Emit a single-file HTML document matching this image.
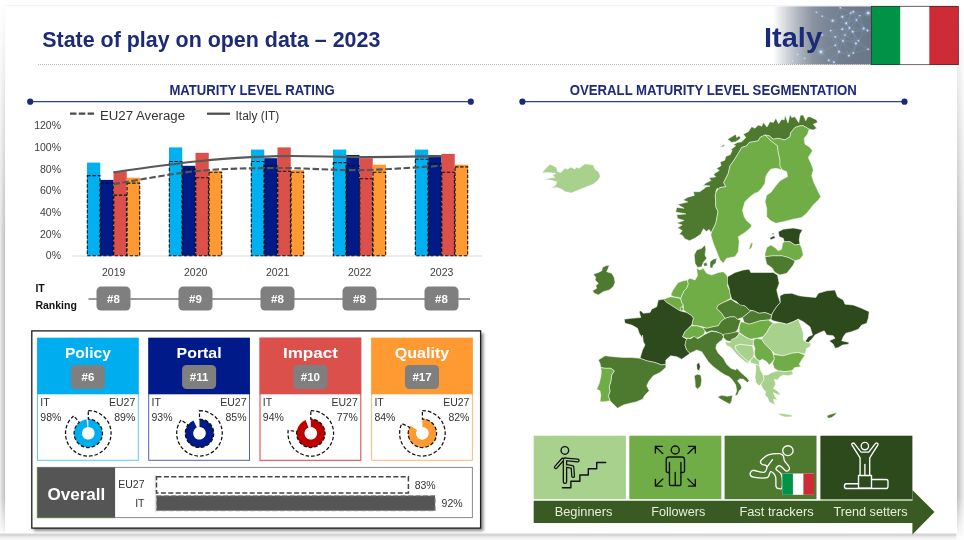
<!DOCTYPE html>
<html lang="en"><head><meta charset="utf-8"><title>State of play on open data – 2023 – Italy</title>
<style>
html,body{margin:0;padding:0;background:#fff;}
body{width:964px;height:540px;overflow:hidden;position:relative;font-family:"Liberation Sans",sans-serif;}
svg{position:absolute;left:0;top:0;display:block}
text{font-family:"Liberation Sans",sans-serif}
.b{font-weight:bold}
.ax{font-size:10.5px;fill:#404040}
.lg{font-size:12.5px;fill:#333}
.pc{font-size:10.5px;fill:#333}
.lab{font-size:12.5px;fill:#e7efdc}
</style></head><body>
<svg width="964" height="540" viewBox="0 0 964 540">
<defs>
<linearGradient id="hg" x1="0" x2="1" y1="0" y2="0"><stop offset="0.03" stop-color="#8a93a0" stop-opacity="0"/><stop offset="0.16" stop-color="#8a93a0" stop-opacity="0.38"/><stop offset="0.29" stop-color="#8a93a0" stop-opacity="0.7"/><stop offset="0.42" stop-color="#87909e" stop-opacity="0.97"/><stop offset="0.56" stop-color="#7a8595" stop-opacity="1"/><stop offset="0.75" stop-color="#707c8d" stop-opacity="1"/><stop offset="1" stop-color="#6a778a" stop-opacity="1"/></linearGradient>
<linearGradient id="ls" x1="0" x2="1" y1="0" y2="0"><stop offset="0" stop-color="#ececec"/><stop offset="0.8" stop-color="#c2c2c2"/><stop offset="1" stop-color="#fff"/></linearGradient>
<linearGradient id="rs" x1="0" x2="1" y1="0" y2="0"><stop offset="0" stop-color="#fff"/><stop offset="0.12" stop-color="#c0c0c0"/><stop offset="1" stop-color="#f1f1f1"/></linearGradient>
<linearGradient id="lm" x1="0" x2="0" y1="0" y2="1"><stop offset="0" stop-color="#fff" stop-opacity="1"/><stop offset="0.45" stop-color="#fff" stop-opacity="0"/><stop offset="0.92" stop-color="#fff" stop-opacity="0"/><stop offset="1" stop-color="#fff" stop-opacity="1"/></linearGradient>
<linearGradient id="bs" x1="0" x2="0" y1="0" y2="1"><stop offset="0" stop-color="#fff"/><stop offset="0.3" stop-color="#cfcfcf"/><stop offset="0.6" stop-color="#ededed"/><stop offset="1" stop-color="#f8f8f8"/></linearGradient>
<filter id="sh" x="-5%" y="-5%" width="112%" height="115%"><feGaussianBlur stdDeviation="1.6"/></filter>
</defs>

<rect x="0" y="0" width="5.6" height="540" fill="url(#ls)"/><rect x="0" y="0" width="5.6" height="540" fill="url(#lm)"/>
<rect x="0" y="532.5" width="964" height="7.5" fill="url(#bs)"/>
<rect x="6" y="5" width="952" height="1" fill="#f3f3f3"/>
<rect x="956.6" y="0" width="7.4" height="540" fill="url(#rs)"/><rect x="956.6" y="0" width="7.4" height="540" fill="url(#lm)"/>
<text x="42.3" y="46.5" class="b" font-size="22" fill="#1d2a78" textLength="338" lengthAdjust="spacingAndGlyphs">State of play on open data – 2023</text>
<line x1="38" y1="64.5" x2="871" y2="64.5" stroke="#b5b5b5" stroke-width="1" stroke-dasharray="1 1"/>
<rect x="770" y="6.4" width="101.5" height="58" fill="url(#hg)"/>
<line x1="868.2" y1="13.0" x2="856.5" y2="20.1" stroke="#a9c8ee" stroke-opacity="0.28" stroke-width="0.5"/>
<line x1="868.2" y1="13.0" x2="853.3" y2="11.7" stroke="#a9c8ee" stroke-opacity="0.28" stroke-width="0.5"/>
<line x1="868.2" y1="13.0" x2="859.8" y2="15.6" stroke="#a9c8ee" stroke-opacity="0.28" stroke-width="0.5"/>
<line x1="832.6" y1="20.7" x2="842.3" y2="16.8" stroke="#a9c8ee" stroke-opacity="0.28" stroke-width="0.5"/>
<line x1="832.6" y1="20.7" x2="846.2" y2="23.3" stroke="#a9c8ee" stroke-opacity="0.28" stroke-width="0.5"/>
<line x1="832.6" y1="20.7" x2="842.3" y2="29.2" stroke="#a9c8ee" stroke-opacity="0.28" stroke-width="0.5"/>
<line x1="832.6" y1="20.7" x2="822.2" y2="16.2" stroke="#a9c8ee" stroke-opacity="0.28" stroke-width="0.5"/>
<line x1="832.6" y1="20.7" x2="840.3" y2="7.8" stroke="#a9c8ee" stroke-opacity="0.28" stroke-width="0.5"/>
<line x1="832.6" y1="20.7" x2="830.6" y2="30.5" stroke="#a9c8ee" stroke-opacity="0.28" stroke-width="0.5"/>
<line x1="842.3" y1="16.8" x2="846.2" y2="23.3" stroke="#a9c8ee" stroke-opacity="0.28" stroke-width="0.5"/>
<line x1="842.3" y1="16.8" x2="849.4" y2="27.9" stroke="#a9c8ee" stroke-opacity="0.28" stroke-width="0.5"/>
<line x1="842.3" y1="16.8" x2="842.3" y2="29.2" stroke="#a9c8ee" stroke-opacity="0.28" stroke-width="0.5"/>
<line x1="842.3" y1="16.8" x2="856.5" y2="20.1" stroke="#a9c8ee" stroke-opacity="0.28" stroke-width="0.5"/>
<line x1="842.3" y1="16.8" x2="853.3" y2="11.7" stroke="#a9c8ee" stroke-opacity="0.28" stroke-width="0.5"/>
<line x1="842.3" y1="16.8" x2="850.7" y2="13.0" stroke="#a9c8ee" stroke-opacity="0.28" stroke-width="0.5"/>
<line x1="842.3" y1="16.8" x2="840.3" y2="7.8" stroke="#a9c8ee" stroke-opacity="0.28" stroke-width="0.5"/>
<line x1="846.2" y1="23.3" x2="849.4" y2="27.9" stroke="#a9c8ee" stroke-opacity="0.28" stroke-width="0.5"/>
<line x1="846.2" y1="23.3" x2="842.3" y2="29.2" stroke="#a9c8ee" stroke-opacity="0.28" stroke-width="0.5"/>
<line x1="846.2" y1="23.3" x2="852.7" y2="31.7" stroke="#a9c8ee" stroke-opacity="0.28" stroke-width="0.5"/>
<line x1="846.2" y1="23.3" x2="856.5" y2="20.1" stroke="#a9c8ee" stroke-opacity="0.28" stroke-width="0.5"/>
<line x1="846.2" y1="23.3" x2="853.3" y2="11.7" stroke="#a9c8ee" stroke-opacity="0.28" stroke-width="0.5"/>
<line x1="846.2" y1="23.3" x2="850.7" y2="13.0" stroke="#a9c8ee" stroke-opacity="0.28" stroke-width="0.5"/>
<line x1="846.2" y1="23.3" x2="859.8" y2="15.6" stroke="#a9c8ee" stroke-opacity="0.28" stroke-width="0.5"/>
<line x1="846.2" y1="23.3" x2="844.9" y2="35.0" stroke="#a9c8ee" stroke-opacity="0.28" stroke-width="0.5"/>
<line x1="849.4" y1="27.9" x2="842.3" y2="29.2" stroke="#a9c8ee" stroke-opacity="0.28" stroke-width="0.5"/>
<line x1="849.4" y1="27.9" x2="852.7" y2="31.7" stroke="#a9c8ee" stroke-opacity="0.28" stroke-width="0.5"/>
<line x1="849.4" y1="27.9" x2="863.7" y2="28.5" stroke="#a9c8ee" stroke-opacity="0.28" stroke-width="0.5"/>
<line x1="849.4" y1="27.9" x2="856.5" y2="20.1" stroke="#a9c8ee" stroke-opacity="0.28" stroke-width="0.5"/>
<line x1="849.4" y1="27.9" x2="850.7" y2="13.0" stroke="#a9c8ee" stroke-opacity="0.28" stroke-width="0.5"/>
<line x1="849.4" y1="27.9" x2="842.9" y2="40.8" stroke="#a9c8ee" stroke-opacity="0.28" stroke-width="0.5"/>
<line x1="849.4" y1="27.9" x2="858.5" y2="40.8" stroke="#a9c8ee" stroke-opacity="0.28" stroke-width="0.5"/>
<line x1="849.4" y1="27.9" x2="859.8" y2="15.6" stroke="#a9c8ee" stroke-opacity="0.28" stroke-width="0.5"/>
<line x1="849.4" y1="27.9" x2="844.9" y2="35.0" stroke="#a9c8ee" stroke-opacity="0.28" stroke-width="0.5"/>
<line x1="842.3" y1="29.2" x2="852.7" y2="31.7" stroke="#a9c8ee" stroke-opacity="0.28" stroke-width="0.5"/>
<line x1="842.3" y1="29.2" x2="835.2" y2="36.9" stroke="#a9c8ee" stroke-opacity="0.28" stroke-width="0.5"/>
<line x1="842.3" y1="29.2" x2="842.9" y2="40.8" stroke="#a9c8ee" stroke-opacity="0.28" stroke-width="0.5"/>
<line x1="842.3" y1="29.2" x2="844.9" y2="35.0" stroke="#a9c8ee" stroke-opacity="0.28" stroke-width="0.5"/>
<line x1="842.3" y1="29.2" x2="830.6" y2="30.5" stroke="#a9c8ee" stroke-opacity="0.28" stroke-width="0.5"/>
<line x1="852.7" y1="31.7" x2="863.7" y2="28.5" stroke="#a9c8ee" stroke-opacity="0.28" stroke-width="0.5"/>
<line x1="852.7" y1="31.7" x2="867.6" y2="30.5" stroke="#a9c8ee" stroke-opacity="0.28" stroke-width="0.5"/>
<line x1="852.7" y1="31.7" x2="856.5" y2="20.1" stroke="#a9c8ee" stroke-opacity="0.28" stroke-width="0.5"/>
<line x1="852.7" y1="31.7" x2="842.9" y2="40.8" stroke="#a9c8ee" stroke-opacity="0.28" stroke-width="0.5"/>
<line x1="852.7" y1="31.7" x2="855.9" y2="43.4" stroke="#a9c8ee" stroke-opacity="0.28" stroke-width="0.5"/>
<line x1="852.7" y1="31.7" x2="858.5" y2="40.8" stroke="#a9c8ee" stroke-opacity="0.28" stroke-width="0.5"/>
<line x1="852.7" y1="31.7" x2="844.9" y2="35.0" stroke="#a9c8ee" stroke-opacity="0.28" stroke-width="0.5"/>
<line x1="863.7" y1="28.5" x2="867.6" y2="30.5" stroke="#a9c8ee" stroke-opacity="0.28" stroke-width="0.5"/>
<line x1="863.7" y1="28.5" x2="856.5" y2="20.1" stroke="#a9c8ee" stroke-opacity="0.28" stroke-width="0.5"/>
<line x1="863.7" y1="28.5" x2="858.5" y2="40.8" stroke="#a9c8ee" stroke-opacity="0.28" stroke-width="0.5"/>
<line x1="863.7" y1="28.5" x2="859.8" y2="15.6" stroke="#a9c8ee" stroke-opacity="0.28" stroke-width="0.5"/>
<line x1="867.6" y1="30.5" x2="856.5" y2="20.1" stroke="#a9c8ee" stroke-opacity="0.28" stroke-width="0.5"/>
<line x1="867.6" y1="30.5" x2="858.5" y2="40.8" stroke="#a9c8ee" stroke-opacity="0.28" stroke-width="0.5"/>
<line x1="856.5" y1="20.1" x2="853.3" y2="11.7" stroke="#a9c8ee" stroke-opacity="0.28" stroke-width="0.5"/>
<line x1="856.5" y1="20.1" x2="850.7" y2="13.0" stroke="#a9c8ee" stroke-opacity="0.28" stroke-width="0.5"/>
<line x1="856.5" y1="20.1" x2="859.8" y2="15.6" stroke="#a9c8ee" stroke-opacity="0.28" stroke-width="0.5"/>
<line x1="853.3" y1="11.7" x2="850.7" y2="13.0" stroke="#a9c8ee" stroke-opacity="0.28" stroke-width="0.5"/>
<line x1="853.3" y1="11.7" x2="840.3" y2="7.8" stroke="#a9c8ee" stroke-opacity="0.28" stroke-width="0.5"/>
<line x1="853.3" y1="11.7" x2="859.8" y2="15.6" stroke="#a9c8ee" stroke-opacity="0.28" stroke-width="0.5"/>
<line x1="850.7" y1="13.0" x2="840.3" y2="7.8" stroke="#a9c8ee" stroke-opacity="0.28" stroke-width="0.5"/>
<line x1="850.7" y1="13.0" x2="859.8" y2="15.6" stroke="#a9c8ee" stroke-opacity="0.28" stroke-width="0.5"/>
<line x1="835.2" y1="36.9" x2="842.9" y2="40.8" stroke="#a9c8ee" stroke-opacity="0.28" stroke-width="0.5"/>
<line x1="835.2" y1="36.9" x2="839.0" y2="51.8" stroke="#a9c8ee" stroke-opacity="0.28" stroke-width="0.5"/>
<line x1="835.2" y1="36.9" x2="835.2" y2="45.4" stroke="#a9c8ee" stroke-opacity="0.28" stroke-width="0.5"/>
<line x1="835.2" y1="36.9" x2="822.2" y2="35.0" stroke="#a9c8ee" stroke-opacity="0.28" stroke-width="0.5"/>
<line x1="835.2" y1="36.9" x2="844.9" y2="35.0" stroke="#a9c8ee" stroke-opacity="0.28" stroke-width="0.5"/>
<line x1="835.2" y1="36.9" x2="830.6" y2="30.5" stroke="#a9c8ee" stroke-opacity="0.28" stroke-width="0.5"/>
<line x1="842.9" y1="40.8" x2="855.9" y2="43.4" stroke="#a9c8ee" stroke-opacity="0.28" stroke-width="0.5"/>
<line x1="842.9" y1="40.8" x2="858.5" y2="40.8" stroke="#a9c8ee" stroke-opacity="0.28" stroke-width="0.5"/>
<line x1="842.9" y1="40.8" x2="839.0" y2="51.8" stroke="#a9c8ee" stroke-opacity="0.28" stroke-width="0.5"/>
<line x1="842.9" y1="40.8" x2="835.2" y2="45.4" stroke="#a9c8ee" stroke-opacity="0.28" stroke-width="0.5"/>
<line x1="842.9" y1="40.8" x2="848.8" y2="55.7" stroke="#a9c8ee" stroke-opacity="0.28" stroke-width="0.5"/>
<line x1="842.9" y1="40.8" x2="853.3" y2="53.1" stroke="#a9c8ee" stroke-opacity="0.28" stroke-width="0.5"/>
<line x1="842.9" y1="40.8" x2="844.9" y2="35.0" stroke="#a9c8ee" stroke-opacity="0.28" stroke-width="0.5"/>
<line x1="842.9" y1="40.8" x2="830.6" y2="30.5" stroke="#a9c8ee" stroke-opacity="0.28" stroke-width="0.5"/>
<line x1="855.9" y1="43.4" x2="858.5" y2="40.8" stroke="#a9c8ee" stroke-opacity="0.28" stroke-width="0.5"/>
<line x1="855.9" y1="43.4" x2="848.8" y2="55.7" stroke="#a9c8ee" stroke-opacity="0.28" stroke-width="0.5"/>
<line x1="855.9" y1="43.4" x2="853.3" y2="53.1" stroke="#a9c8ee" stroke-opacity="0.28" stroke-width="0.5"/>
<line x1="855.9" y1="43.4" x2="868.2" y2="49.2" stroke="#a9c8ee" stroke-opacity="0.28" stroke-width="0.5"/>
<line x1="855.9" y1="43.4" x2="844.9" y2="35.0" stroke="#a9c8ee" stroke-opacity="0.28" stroke-width="0.5"/>
<line x1="858.5" y1="40.8" x2="853.3" y2="53.1" stroke="#a9c8ee" stroke-opacity="0.28" stroke-width="0.5"/>
<line x1="858.5" y1="40.8" x2="868.2" y2="49.2" stroke="#a9c8ee" stroke-opacity="0.28" stroke-width="0.5"/>
<line x1="858.5" y1="40.8" x2="844.9" y2="35.0" stroke="#a9c8ee" stroke-opacity="0.28" stroke-width="0.5"/>
<line x1="820.9" y1="51.8" x2="835.2" y2="45.4" stroke="#a9c8ee" stroke-opacity="0.28" stroke-width="0.5"/>
<line x1="820.9" y1="51.8" x2="828.7" y2="60.3" stroke="#a9c8ee" stroke-opacity="0.28" stroke-width="0.5"/>
<line x1="820.9" y1="51.8" x2="811.8" y2="42.8" stroke="#a9c8ee" stroke-opacity="0.28" stroke-width="0.5"/>
<line x1="839.0" y1="51.8" x2="835.2" y2="45.4" stroke="#a9c8ee" stroke-opacity="0.28" stroke-width="0.5"/>
<line x1="839.0" y1="51.8" x2="848.8" y2="55.7" stroke="#a9c8ee" stroke-opacity="0.28" stroke-width="0.5"/>
<line x1="839.0" y1="51.8" x2="853.3" y2="53.1" stroke="#a9c8ee" stroke-opacity="0.28" stroke-width="0.5"/>
<line x1="839.0" y1="51.8" x2="828.7" y2="60.3" stroke="#a9c8ee" stroke-opacity="0.28" stroke-width="0.5"/>
<line x1="839.0" y1="51.8" x2="833.9" y2="62.2" stroke="#a9c8ee" stroke-opacity="0.28" stroke-width="0.5"/>
<line x1="835.2" y1="45.4" x2="844.9" y2="35.0" stroke="#a9c8ee" stroke-opacity="0.28" stroke-width="0.5"/>
<line x1="835.2" y1="45.4" x2="830.6" y2="30.5" stroke="#a9c8ee" stroke-opacity="0.28" stroke-width="0.5"/>
<line x1="848.8" y1="55.7" x2="853.3" y2="53.1" stroke="#a9c8ee" stroke-opacity="0.28" stroke-width="0.5"/>
<line x1="853.3" y1="53.1" x2="868.2" y2="49.2" stroke="#a9c8ee" stroke-opacity="0.28" stroke-width="0.5"/>
<line x1="828.7" y1="60.3" x2="833.9" y2="62.2" stroke="#a9c8ee" stroke-opacity="0.28" stroke-width="0.5"/>
<line x1="822.2" y1="35.0" x2="830.6" y2="30.5" stroke="#a9c8ee" stroke-opacity="0.28" stroke-width="0.5"/>
<line x1="822.2" y1="35.0" x2="811.8" y2="42.8" stroke="#a9c8ee" stroke-opacity="0.28" stroke-width="0.5"/>
<line x1="797.6" y1="54.4" x2="792.4" y2="60.9" stroke="#a9c8ee" stroke-opacity="0.28" stroke-width="0.5"/>
<line x1="797.6" y1="54.4" x2="804.7" y2="58.3" stroke="#a9c8ee" stroke-opacity="0.28" stroke-width="0.5"/>
<line x1="792.4" y1="60.9" x2="804.7" y2="58.3" stroke="#a9c8ee" stroke-opacity="0.28" stroke-width="0.5"/>
<line x1="816.4" y1="12.3" x2="822.2" y2="16.2" stroke="#a9c8ee" stroke-opacity="0.28" stroke-width="0.5"/>
<line x1="844.9" y1="35.0" x2="830.6" y2="30.5" stroke="#a9c8ee" stroke-opacity="0.28" stroke-width="0.5"/>
<circle cx="868.2" cy="13.0" r="3.4" fill="#9cc6f7" fill-opacity="0.22"/><circle cx="868.2" cy="13.0" r="1.5" fill="#d3e7ff" fill-opacity="0.9"/>
<circle cx="832.6" cy="20.7" r="2.5" fill="#9cc6f7" fill-opacity="0.22"/><circle cx="832.6" cy="20.7" r="1.1" fill="#d3e7ff" fill-opacity="0.9"/>
<circle cx="842.3" cy="16.8" r="2.3" fill="#9cc6f7" fill-opacity="0.22"/><circle cx="842.3" cy="16.8" r="1.0" fill="#d3e7ff" fill-opacity="0.9"/>
<circle cx="846.2" cy="23.3" r="2.3" fill="#9cc6f7" fill-opacity="0.22"/><circle cx="846.2" cy="23.3" r="1.0" fill="#d3e7ff" fill-opacity="0.9"/>
<circle cx="849.4" cy="27.9" r="2.1" fill="#9cc6f7" fill-opacity="0.22"/><circle cx="849.4" cy="27.9" r="0.9" fill="#d3e7ff" fill-opacity="0.9"/>
<circle cx="842.3" cy="29.2" r="2.1" fill="#9cc6f7" fill-opacity="0.22"/><circle cx="842.3" cy="29.2" r="0.9" fill="#d3e7ff" fill-opacity="0.9"/>
<circle cx="852.7" cy="31.7" r="2.1" fill="#9cc6f7" fill-opacity="0.22"/><circle cx="852.7" cy="31.7" r="0.9" fill="#d3e7ff" fill-opacity="0.9"/>
<circle cx="863.7" cy="28.5" r="2.3" fill="#9cc6f7" fill-opacity="0.22"/><circle cx="863.7" cy="28.5" r="1.0" fill="#d3e7ff" fill-opacity="0.9"/>
<circle cx="867.6" cy="30.5" r="2.1" fill="#9cc6f7" fill-opacity="0.22"/><circle cx="867.6" cy="30.5" r="0.9" fill="#d3e7ff" fill-opacity="0.9"/>
<circle cx="856.5" cy="20.1" r="1.8" fill="#9cc6f7" fill-opacity="0.22"/><circle cx="856.5" cy="20.1" r="0.8" fill="#d3e7ff" fill-opacity="0.9"/>
<circle cx="853.3" cy="11.7" r="2.1" fill="#9cc6f7" fill-opacity="0.22"/><circle cx="853.3" cy="11.7" r="0.9" fill="#d3e7ff" fill-opacity="0.9"/>
<circle cx="850.7" cy="13.0" r="1.8" fill="#9cc6f7" fill-opacity="0.22"/><circle cx="850.7" cy="13.0" r="0.8" fill="#d3e7ff" fill-opacity="0.9"/>
<circle cx="835.2" cy="36.9" r="1.8" fill="#9cc6f7" fill-opacity="0.22"/><circle cx="835.2" cy="36.9" r="0.8" fill="#d3e7ff" fill-opacity="0.9"/>
<circle cx="842.9" cy="40.8" r="2.1" fill="#9cc6f7" fill-opacity="0.22"/><circle cx="842.9" cy="40.8" r="0.9" fill="#d3e7ff" fill-opacity="0.9"/>
<circle cx="855.9" cy="43.4" r="2.1" fill="#9cc6f7" fill-opacity="0.22"/><circle cx="855.9" cy="43.4" r="0.9" fill="#d3e7ff" fill-opacity="0.9"/>
<circle cx="858.5" cy="40.8" r="1.8" fill="#9cc6f7" fill-opacity="0.22"/><circle cx="858.5" cy="40.8" r="0.8" fill="#d3e7ff" fill-opacity="0.9"/>
<circle cx="820.9" cy="51.8" r="3.7" fill="#9cc6f7" fill-opacity="0.22"/><circle cx="820.9" cy="51.8" r="1.6" fill="#d3e7ff" fill-opacity="0.9"/>
<circle cx="839.0" cy="51.8" r="2.3" fill="#9cc6f7" fill-opacity="0.22"/><circle cx="839.0" cy="51.8" r="1.0" fill="#d3e7ff" fill-opacity="0.9"/>
<circle cx="835.2" cy="45.4" r="1.8" fill="#9cc6f7" fill-opacity="0.22"/><circle cx="835.2" cy="45.4" r="0.8" fill="#d3e7ff" fill-opacity="0.9"/>
<circle cx="848.8" cy="55.7" r="2.1" fill="#9cc6f7" fill-opacity="0.22"/><circle cx="848.8" cy="55.7" r="0.9" fill="#d3e7ff" fill-opacity="0.9"/>
<circle cx="853.3" cy="53.1" r="1.8" fill="#9cc6f7" fill-opacity="0.22"/><circle cx="853.3" cy="53.1" r="0.8" fill="#d3e7ff" fill-opacity="0.9"/>
<circle cx="828.7" cy="60.3" r="2.1" fill="#9cc6f7" fill-opacity="0.22"/><circle cx="828.7" cy="60.3" r="0.9" fill="#d3e7ff" fill-opacity="0.9"/>
<circle cx="833.9" cy="62.2" r="2.1" fill="#9cc6f7" fill-opacity="0.22"/><circle cx="833.9" cy="62.2" r="0.9" fill="#d3e7ff" fill-opacity="0.9"/>
<circle cx="822.2" cy="35.0" r="1.8" fill="#9cc6f7" fill-opacity="0.22"/><circle cx="822.2" cy="35.0" r="0.8" fill="#d3e7ff" fill-opacity="0.9"/>
<circle cx="797.6" cy="54.4" r="1.8" fill="#9cc6f7" fill-opacity="0.22"/><circle cx="797.6" cy="54.4" r="0.8" fill="#d3e7ff" fill-opacity="0.9"/>
<circle cx="792.4" cy="60.9" r="1.8" fill="#9cc6f7" fill-opacity="0.22"/><circle cx="792.4" cy="60.9" r="0.8" fill="#d3e7ff" fill-opacity="0.9"/>
<circle cx="816.4" cy="12.3" r="1.6" fill="#9cc6f7" fill-opacity="0.22"/><circle cx="816.4" cy="12.3" r="0.7" fill="#d3e7ff" fill-opacity="0.9"/>
<circle cx="822.2" cy="16.2" r="1.6" fill="#9cc6f7" fill-opacity="0.22"/><circle cx="822.2" cy="16.2" r="0.7" fill="#d3e7ff" fill-opacity="0.9"/>
<circle cx="840.3" cy="7.8" r="1.8" fill="#9cc6f7" fill-opacity="0.22"/><circle cx="840.3" cy="7.8" r="0.8" fill="#d3e7ff" fill-opacity="0.9"/>
<circle cx="868.2" cy="49.2" r="1.8" fill="#9cc6f7" fill-opacity="0.22"/><circle cx="868.2" cy="49.2" r="0.8" fill="#d3e7ff" fill-opacity="0.9"/>
<circle cx="859.8" cy="15.6" r="1.6" fill="#9cc6f7" fill-opacity="0.22"/><circle cx="859.8" cy="15.6" r="0.7" fill="#d3e7ff" fill-opacity="0.9"/>
<circle cx="844.9" cy="35.0" r="1.6" fill="#9cc6f7" fill-opacity="0.22"/><circle cx="844.9" cy="35.0" r="0.7" fill="#d3e7ff" fill-opacity="0.9"/>
<circle cx="830.6" cy="30.5" r="1.6" fill="#9cc6f7" fill-opacity="0.22"/><circle cx="830.6" cy="30.5" r="0.7" fill="#d3e7ff" fill-opacity="0.9"/>
<circle cx="811.8" cy="42.8" r="1.6" fill="#9cc6f7" fill-opacity="0.22"/><circle cx="811.8" cy="42.8" r="0.7" fill="#d3e7ff" fill-opacity="0.9"/>
<circle cx="804.7" cy="58.3" r="1.6" fill="#9cc6f7" fill-opacity="0.22"/><circle cx="804.7" cy="58.3" r="0.7" fill="#d3e7ff" fill-opacity="0.9"/>
<text x="764" y="46.5" class="b" font-size="28" fill="#1d2a78" textLength="58" lengthAdjust="spacingAndGlyphs">Italy</text>
<rect x="871" y="6" width="87.5" height="59" fill="#fff"/><rect x="871" y="6" width="29.2" height="59" fill="#009246"/><rect x="929.3" y="6" width="29.2" height="59" fill="#ce2b37"/><rect x="871.3" y="6.3" width="87" height="58.4" fill="none" stroke="#3a2a2a" stroke-width="0.7"/>
<text x="169.4" y="94.5" class="b" font-size="13.8" fill="#1d2a78" textLength="165.2" lengthAdjust="spacingAndGlyphs">MATURITY LEVEL RATING</text>
<line x1="30" y1="101.7" x2="471" y2="101.7" stroke="#2f3f8f" stroke-width="1.3"/><circle cx="30.2" cy="101.7" r="3.1" fill="#1d2a78"/><circle cx="470.8" cy="101.7" r="3.1" fill="#1d2a78"/>
<text x="569.7" y="94.5" class="b" font-size="13.8" fill="#1d2a78" textLength="287.2" lengthAdjust="spacingAndGlyphs">OVERALL MATURITY LEVEL SEGMENTATION</text>
<line x1="522" y1="101.7" x2="904.5" y2="101.7" stroke="#2f3f8f" stroke-width="1.3"/><circle cx="522.4" cy="101.7" r="3.1" fill="#1d2a78"/><circle cx="904.5" cy="101.7" r="3.1" fill="#1d2a78"/>
<line x1="70" y1="113.7" x2="94" y2="113.7" stroke="#4a4a4a" stroke-width="2.2" stroke-dasharray="6.5 2.3"/>
<text x="100" y="119.5" class="lg" textLength="85" lengthAdjust="spacingAndGlyphs">EU27 Average</text>
<line x1="207" y1="113.7" x2="230" y2="113.7" stroke="#4a4a4a" stroke-width="2.2"/>
<text x="235.5" y="119.5" class="lg" textLength="43.8" lengthAdjust="spacingAndGlyphs">Italy (IT)</text>
<text x="61" y="259.4" class="ax" text-anchor="end">0%</text>
<text x="61" y="237.7" class="ax" text-anchor="end">20%</text>
<text x="61" y="216.1" class="ax" text-anchor="end">40%</text>
<text x="61" y="194.4" class="ax" text-anchor="end">60%</text>
<text x="61" y="172.8" class="ax" text-anchor="end">80%</text>
<text x="61" y="151.1" class="ax" text-anchor="end">100%</text>
<text x="61" y="129.4" class="ax" text-anchor="end">120%</text>
<line x1="72" y1="256.0" x2="482" y2="256.0" stroke="#d9d9d9" stroke-width="1"/>
<rect x="87.00" y="162.6" width="13.25" height="93.1" fill="#00b0f0"/>
<rect x="100.25" y="179.9" width="13.25" height="75.8" fill="#001a8a"/>
<rect x="113.50" y="171.2" width="13.25" height="84.5" fill="#dc504b"/>
<rect x="126.75" y="177.7" width="13.25" height="78.0" fill="#ff9a33"/>
<rect x="169.00" y="147.4" width="13.25" height="108.3" fill="#00b0f0"/>
<rect x="182.25" y="165.8" width="13.25" height="89.9" fill="#001a8a"/>
<rect x="195.50" y="152.8" width="13.25" height="102.9" fill="#dc504b"/>
<rect x="208.75" y="171.2" width="13.25" height="84.5" fill="#ff9a33"/>
<rect x="251.00" y="149.6" width="13.25" height="106.1" fill="#00b0f0"/>
<rect x="264.25" y="158.2" width="13.25" height="97.5" fill="#001a8a"/>
<rect x="277.50" y="147.4" width="13.25" height="108.3" fill="#dc504b"/>
<rect x="290.75" y="170.1" width="13.25" height="85.6" fill="#ff9a33"/>
<rect x="333.00" y="149.6" width="13.25" height="106.1" fill="#00b0f0"/>
<rect x="346.25" y="155.0" width="13.25" height="100.7" fill="#001a8a"/>
<rect x="359.50" y="158.2" width="13.25" height="97.5" fill="#dc504b"/>
<rect x="372.75" y="164.7" width="13.25" height="91.0" fill="#ff9a33"/>
<rect x="415.00" y="149.6" width="13.25" height="106.1" fill="#00b0f0"/>
<rect x="428.25" y="155.0" width="13.25" height="100.7" fill="#001a8a"/>
<rect x="441.50" y="153.9" width="13.25" height="101.8" fill="#dc504b"/>
<rect x="454.75" y="164.7" width="13.25" height="91.0" fill="#ff9a33"/>
<rect x="87.30" y="175.6" width="12.65" height="80.1" fill="none" stroke="#111" stroke-width="1.1" stroke-dasharray="3.4 1.7"/>
<rect x="100.55" y="183.1" width="12.65" height="72.6" fill="none" stroke="#111" stroke-width="1.1" stroke-dasharray="3.4 1.7"/>
<rect x="113.80" y="195.1" width="12.65" height="60.6" fill="none" stroke="#111" stroke-width="1.1" stroke-dasharray="3.4 1.7"/>
<rect x="127.05" y="183.1" width="12.65" height="72.6" fill="none" stroke="#111" stroke-width="1.1" stroke-dasharray="3.4 1.7"/>
<rect x="169.30" y="161.5" width="12.65" height="94.2" fill="none" stroke="#111" stroke-width="1.1" stroke-dasharray="3.4 1.7"/>
<rect x="182.55" y="169.1" width="12.65" height="86.6" fill="none" stroke="#111" stroke-width="1.1" stroke-dasharray="3.4 1.7"/>
<rect x="195.80" y="177.7" width="12.65" height="78.0" fill="none" stroke="#111" stroke-width="1.1" stroke-dasharray="3.4 1.7"/>
<rect x="209.05" y="172.3" width="12.65" height="83.4" fill="none" stroke="#111" stroke-width="1.1" stroke-dasharray="3.4 1.7"/>
<rect x="251.30" y="161.5" width="12.65" height="94.2" fill="none" stroke="#111" stroke-width="1.1" stroke-dasharray="3.4 1.7"/>
<rect x="264.55" y="165.8" width="12.65" height="89.9" fill="none" stroke="#111" stroke-width="1.1" stroke-dasharray="3.4 1.7"/>
<rect x="277.80" y="171.2" width="12.65" height="84.5" fill="none" stroke="#111" stroke-width="1.1" stroke-dasharray="3.4 1.7"/>
<rect x="291.05" y="172.3" width="12.65" height="83.4" fill="none" stroke="#111" stroke-width="1.1" stroke-dasharray="3.4 1.7"/>
<rect x="333.30" y="162.6" width="12.65" height="93.1" fill="none" stroke="#111" stroke-width="1.1" stroke-dasharray="3.4 1.7"/>
<rect x="346.55" y="165.8" width="12.65" height="89.9" fill="none" stroke="#111" stroke-width="1.1" stroke-dasharray="3.4 1.7"/>
<rect x="359.80" y="178.8" width="12.65" height="76.9" fill="none" stroke="#111" stroke-width="1.1" stroke-dasharray="3.4 1.7"/>
<rect x="373.05" y="172.3" width="12.65" height="83.4" fill="none" stroke="#111" stroke-width="1.1" stroke-dasharray="3.4 1.7"/>
<rect x="415.30" y="159.3" width="12.65" height="96.4" fill="none" stroke="#111" stroke-width="1.1" stroke-dasharray="3.4 1.7"/>
<rect x="428.55" y="163.6" width="12.65" height="92.1" fill="none" stroke="#111" stroke-width="1.1" stroke-dasharray="3.4 1.7"/>
<rect x="441.80" y="172.3" width="12.65" height="83.4" fill="none" stroke="#111" stroke-width="1.1" stroke-dasharray="3.4 1.7"/>
<rect x="455.05" y="166.9" width="12.65" height="88.8" fill="none" stroke="#111" stroke-width="1.1" stroke-dasharray="3.4 1.7"/>
<path d="M113.5,184.2 C127.2,182.1 168.2,173.9 195.5,171.2 C222.8,168.5 250.2,168.2 277.5,168.0 C304.8,167.8 332.2,170.5 359.5,170.1 C386.8,169.8 427.8,166.5 441.5,165.8" fill="none" stroke="#555" stroke-width="2.1" stroke-dasharray="6.5 2.6"/>
<path d="M113.5,172.3 C127.2,170.5 168.2,164.2 195.5,161.5 C222.8,158.8 250.2,156.8 277.5,156.1 C304.8,155.3 332.2,157.1 359.5,157.1 C386.8,157.1 427.8,156.2 441.5,156.1" fill="none" stroke="#595959" stroke-width="2.1"/>
<text x="113.7" y="276.2" class="ax" text-anchor="middle" font-size="10.8">2019</text>
<text x="195.7" y="276.2" class="ax" text-anchor="middle" font-size="10.8">2020</text>
<text x="277.7" y="276.2" class="ax" text-anchor="middle" font-size="10.8">2021</text>
<text x="359.7" y="276.2" class="ax" text-anchor="middle" font-size="10.8">2022</text>
<text x="441.7" y="276.2" class="ax" text-anchor="middle" font-size="10.8">2023</text>
<text x="35.4" y="291.9" class="b" font-size="10.5" fill="#111">IT</text><text x="35.4" y="308.5" class="b" font-size="10.5" fill="#111" textLength="41.5" lengthAdjust="spacingAndGlyphs">Ranking</text>
<line x1="88.5" y1="299" x2="470" y2="299" stroke="#9a9a9a" stroke-width="1.8"/>
<rect x="96.5" y="286.6" width="34" height="24" rx="4.5" fill="#7f7f7f"/><text x="113.5" y="303" class="b" font-size="11.5" fill="#fff" text-anchor="middle">#8</text>
<rect x="178.5" y="286.6" width="34" height="24" rx="4.5" fill="#7f7f7f"/><text x="195.5" y="303" class="b" font-size="11.5" fill="#fff" text-anchor="middle">#9</text>
<rect x="260.5" y="286.6" width="34" height="24" rx="4.5" fill="#7f7f7f"/><text x="277.5" y="303" class="b" font-size="11.5" fill="#fff" text-anchor="middle">#8</text>
<rect x="342.5" y="286.6" width="34" height="24" rx="4.5" fill="#7f7f7f"/><text x="359.5" y="303" class="b" font-size="11.5" fill="#fff" text-anchor="middle">#8</text>
<rect x="424.5" y="286.6" width="34" height="24" rx="4.5" fill="#7f7f7f"/><text x="441.5" y="303" class="b" font-size="11.5" fill="#fff" text-anchor="middle">#8</text>
<rect x="33.5" y="333" width="450" height="198" fill="#000" fill-opacity="0.45" filter="url(#sh)"/>
<rect x="31.8" y="330.9" width="448.8" height="197.2" fill="#fff" stroke="#1c1c1c" stroke-width="1.3"/>
<rect x="37.5" y="338" width="100.8" height="122.3" fill="#fff" stroke="#5cc8f5" stroke-width="1"/>
<rect x="37.2" y="338" width="101.39999999999999" height="56.3" fill="#00adee"/>
<text x="87.9" y="357.5" class="b" font-size="15.5" fill="#fff" text-anchor="middle" textLength="46" lengthAdjust="spacingAndGlyphs">Policy</text>
<rect x="70.9" y="365" width="34" height="24" rx="4.5" fill="#7f7f7f"/><text x="87.9" y="381.3" class="b" font-size="11.5" fill="#fff" text-anchor="middle">#6</text>
<text x="40.3" y="405.8" class="pc">IT</text><text x="40.3" y="420.8" class="pc">98%</text>
<text x="135.3" y="405.8" class="pc" text-anchor="end">EU27</text><text x="135.3" y="420.8" class="pc" text-anchor="end">89%</text>
<path d="M88.30,419.10 A14.2,14.2 0 1 1 86.52,419.21 L87.51,427.05 A6.3,6.3 0 1 0 88.30,427.00Z" fill="#00adee"/>
<path d="M88.30,410.50 A22.8,22.8 0 1 1 73.77,415.73 L79.25,422.36 A14.2,14.2 0 1 0 88.30,419.10Z" fill="none" stroke="#111" stroke-width="1.25" stroke-dasharray="3.6 2"/>
<rect x="148.7" y="338" width="100.8" height="122.3" fill="#fff" stroke="#5560b0" stroke-width="1"/>
<rect x="148.39999999999998" y="338" width="101.39999999999999" height="56.3" fill="#001a8a"/>
<text x="199.1" y="357.5" class="b" font-size="15.5" fill="#fff" text-anchor="middle" textLength="45" lengthAdjust="spacingAndGlyphs">Portal</text>
<rect x="182.1" y="365" width="34" height="24" rx="4.5" fill="#7f7f7f"/><text x="199.1" y="381.3" class="b" font-size="11.5" fill="#fff" text-anchor="middle">#11</text>
<text x="151.5" y="405.8" class="pc">IT</text><text x="151.5" y="420.8" class="pc">93%</text>
<text x="246.5" y="405.8" class="pc" text-anchor="end">EU27</text><text x="246.5" y="420.8" class="pc" text-anchor="end">85%</text>
<path d="M199.50,419.10 A14.2,14.2 0 1 1 193.45,420.45 L196.82,427.60 A6.3,6.3 0 1 0 199.50,427.00Z" fill="#001a8a"/>
<path d="M199.50,410.50 A22.8,22.8 0 1 1 181.05,419.90 L188.01,424.95 A14.2,14.2 0 1 0 199.50,419.10Z" fill="none" stroke="#111" stroke-width="1.25" stroke-dasharray="3.6 2"/>
<rect x="260" y="338" width="100.8" height="122.3" fill="#fff" stroke="#dc3c3c" stroke-width="1"/>
<rect x="259.7" y="338" width="101.39999999999999" height="56.3" fill="#dc504b"/>
<text x="310.4" y="357.5" class="b" font-size="15.5" fill="#fff" text-anchor="middle" textLength="55" lengthAdjust="spacingAndGlyphs">Impact</text>
<rect x="293.4" y="365" width="34" height="24" rx="4.5" fill="#7f7f7f"/><text x="310.4" y="381.3" class="b" font-size="11.5" fill="#fff" text-anchor="middle">#10</text>
<text x="262.8" y="405.8" class="pc">IT</text><text x="262.8" y="420.8" class="pc">94%</text>
<text x="357.8" y="405.8" class="pc" text-anchor="end">EU27</text><text x="357.8" y="420.8" class="pc" text-anchor="end">77%</text>
<path d="M310.80,419.10 A14.2,14.2 0 1 1 305.57,420.10 L308.48,427.44 A6.3,6.3 0 1 0 310.80,427.00Z" fill="#c00000"/>
<path d="M310.80,410.50 A22.8,22.8 0 1 1 288.18,430.44 L296.71,431.52 A14.2,14.2 0 1 0 310.80,419.10Z" fill="none" stroke="#111" stroke-width="1.25" stroke-dasharray="3.6 2"/>
<rect x="371.6" y="338" width="100.8" height="122.3" fill="#fff" stroke="#ffb871" stroke-width="1"/>
<rect x="371.3" y="338" width="101.39999999999999" height="56.3" fill="#ff9a33"/>
<text x="422.0" y="357.5" class="b" font-size="15.5" fill="#fff" text-anchor="middle" textLength="54.5" lengthAdjust="spacingAndGlyphs">Quality</text>
<rect x="405.0" y="365" width="34" height="24" rx="4.5" fill="#7f7f7f"/><text x="422.0" y="381.3" class="b" font-size="11.5" fill="#fff" text-anchor="middle">#17</text>
<text x="374.4" y="405.8" class="pc">IT</text><text x="374.4" y="420.8" class="pc">84%</text>
<text x="469.4" y="405.8" class="pc" text-anchor="end">EU27</text><text x="469.4" y="420.8" class="pc" text-anchor="end">82%</text>
<path d="M422.40,419.10 A14.2,14.2 0 1 1 410.41,425.69 L417.08,429.92 A6.3,6.3 0 1 0 422.40,427.00Z" fill="#ff9a33"/>
<path d="M422.40,410.50 A22.8,22.8 0 1 1 401.77,423.59 L409.55,427.25 A14.2,14.2 0 1 0 422.40,419.10Z" fill="none" stroke="#111" stroke-width="1.25" stroke-dasharray="3.6 2"/>
<rect x="37.4" y="467.4" width="435" height="50.2" fill="#fff" stroke="#8a8a8a" stroke-width="1"/>
<rect x="37.4" y="467.4" width="77.7" height="50.3" fill="#555"/><path d="M37.4,467.4V517.7H115.1" fill="none" stroke="#5f8a3c" stroke-width="0.8"/>
<text x="47.4" y="499.8" class="b" font-size="16.8" fill="#fff" textLength="58" lengthAdjust="spacingAndGlyphs">Overall</text>
<text x="144.5" y="488.2" class="pc" text-anchor="end">EU27</text><text x="144.5" y="506.5" class="pc" text-anchor="end">IT</text>
<line x1="155.3" y1="475" x2="155.3" y2="512.5" stroke="#d9d9d9" stroke-width="1"/>
<rect x="156.5" y="476.8" width="251.9" height="16.2" fill="#fff" stroke="#444" stroke-width="1.5" stroke-dasharray="5 2.4"/>
<rect x="156.5" y="495.7" width="278.6" height="15" fill="#555"/><rect x="156.5" y="495.7" width="278.6" height="15" fill="none" stroke="#888" stroke-width="1" stroke-dasharray="5 2.4"/>
<text x="414.7" y="489" class="pc">83%</text><text x="441.6" y="507.3" class="pc">92%</text>
<g stroke="#fff" stroke-width="0.5" stroke-linejoin="round">
<path d="M541.7,173.0 L546.7,167.5 L550.0,164.2 L556.7,167.5 L557.5,171.7 L560.8,172.5 L565.0,168.0 L567.5,169.2 L570.8,167.0 L575.0,169.2 L575.8,167.0 L579.2,168.3 L585.0,163.7 L588.3,164.2 L593.3,165.0 L595.0,169.2 L599.2,172.5 L600.3,176.7 L597.5,180.8 L593.3,184.2 L585.0,187.5 L576.7,190.8 L571.7,193.0 L565.0,191.7 L561.7,189.2 L556.7,187.5 L550.8,188.3 L555.8,185.0 L556.7,181.7 L550.0,180.0 L544.2,179.7 L548.3,178.3 L555.0,177.5 L552.5,175.8 L555.8,173.3 L548.3,172.5Z" fill="#A9D18E"/>
<path d="M730.0,150.3 L735.8,145.8 L733.3,144.7 L737.5,142.5 L741.7,141.7 L745.8,137.5 L743.3,134.2 L748.3,131.7 L751.7,126.7 L755.0,128.3 L758.3,125.0 L761.7,126.3 L763.3,122.5 L767.0,127.0 L770.0,121.7 L773.3,122.5 L775.8,118.3 L778.7,123.7 L781.7,119.2 L784.2,120.0 L785.0,115.0 L788.0,123.0 L790.0,114.2 L791.7,117.5 L795.0,116.7 L798.7,122.5 L800.3,115.3 L803.3,115.0 L805.8,120.8 L807.5,117.0 L810.0,116.7 L816.7,120.0 L817.5,122.5 L813.3,124.2 L816.7,128.3 L813.3,130.0 L809.2,129.2 L803.3,125.8 L800.0,125.8 L795.0,127.5 L790.8,132.5 L790.0,136.7 L785.0,140.0 L778.3,138.3 L773.3,139.2 L769.2,135.8 L765.0,135.0 L760.0,137.5 L758.3,140.8 L753.3,141.7 L749.2,142.5 L746.7,145.8 L741.7,147.5 L738.3,153.3 L734.2,160.0 L730.0,165.8 L728.3,173.3 L725.8,178.3 L723.7,182.5 L725.8,186.7 L720.0,187.5 L715.8,191.7 L717.5,188.3 L715.3,195.0 L715.8,206.7 L718.0,211.7 L715.8,223.3 L714.2,226.7 L711.7,231.7 L710.9,232.4 L709.1,229.6 L706.3,231.5 L703.5,228.7 L700.7,234.3 L695.2,238.0 L689.6,240.7 L685.0,238.9 L682.2,235.2 L679.4,234.3 L682.2,230.6 L677.6,227.8 L682.2,225.0 L676.7,223.1 L684.1,220.4 L677.6,218.5 L676.7,214.8 L685.9,213.9 L675.7,212.0 L676.7,207.4 L684.1,208.3 L677.6,204.6 L680.4,203.7 L687.8,201.9 L683.1,200.0 L687.8,197.2 L694.3,195.4 L693.3,191.7 L699.8,191.7 L706.3,187.0 L710.0,186.1 L704.4,185.2 L701.7,187.0 L705.4,183.3 L710.9,180.6 L709.1,177.8 L715.6,176.9 L713.7,174.1 L719.3,170.4 L716.5,168.5 L721.1,165.7 L720.2,162.0 L724.8,160.2 L725.7,156.5 L730.4,154.6 L732.2,150.0Z" fill="#4E7A2F"/>
<path d="M727.5,139.2 L735.8,134.2 L736.7,137.5 L739.2,135.8 L740.8,138.3 L735.8,141.7 L731.7,142.5Z" fill="#4E7A2F"/>
<path d="M720.0,146.7 L725.0,144.2 L723.7,146.7Z" fill="#4E7A2F"/>
<path d="M765.0,135.0 L769.2,139.2 L773.3,142.5 L777.5,145.8 L778.3,152.5 L780.0,160.0 L780.0,165.8 L782.0,169.7 L775.8,168.3 L770.8,169.2 L767.5,173.3 L765.8,176.7 L765.0,183.3 L761.7,188.3 L758.3,191.7 L753.3,195.0 L755.8,192.5 L750.0,196.7 L745.0,201.7 L742.5,210.0 L744.2,216.7 L746.7,220.8 L751.7,225.0 L750.8,227.5 L745.0,232.5 L738.3,236.7 L739.2,241.7 L738.3,251.7 L735.0,256.7 L726.7,258.3 L723.3,263.3 L720.0,260.0 L716.7,251.7 L713.3,243.3 L710.8,235.0 L711.7,231.7 L711.7,231.7 L714.2,226.7 L715.8,223.3 L718.0,211.7 L715.8,206.7 L715.3,195.0 L717.5,188.3 L715.8,191.7 L720.0,187.5 L725.8,186.7 L723.7,182.5 L725.8,178.3 L728.3,173.3 L730.0,165.8 L734.2,160.0 L738.3,153.3 L741.7,147.5 L746.7,145.8 L749.2,142.5 L753.3,141.7 L758.3,140.8 L760.0,137.5 L765.0,135.0Z" fill="#70AD47"/>
<path d="M749.2,248.3 L750.8,243.3 L752.8,242.5 L752.0,246.7 L750.0,249.5Z" fill="#70AD47"/>
<path d="M809.2,129.2 L807.5,134.2 L804.2,138.3 L805.0,144.2 L809.2,146.7 L812.5,150.8 L808.3,157.5 L811.7,165.0 L813.3,170.0 L811.7,175.8 L814.2,183.3 L818.3,191.7 L820.8,196.7 L818.3,200.0 L813.3,205.0 L806.7,213.3 L801.7,217.5 L793.3,219.2 L783.3,221.7 L775.8,223.3 L770.8,220.8 L766.7,216.7 L766.7,208.3 L765.0,201.7 L766.7,195.0 L770.8,192.5 L775.0,186.7 L780.0,180.8 L784.2,178.3 L787.5,176.7 L786.7,171.7 L782.0,169.7 L780.0,165.8 L780.0,160.0 L778.3,152.5 L777.5,145.8 L773.3,142.5 L769.2,139.2 L765.0,135.0 L769.2,135.8 L773.3,139.2 L778.3,138.3 L785.0,140.0 L790.0,136.7 L790.8,132.5 L795.0,127.5 L800.0,125.8 L803.3,125.8 L809.2,129.2Z" fill="#70AD47"/>
<path d="M778.3,231.7 L783.3,229.2 L793.3,228.0 L802.5,229.7 L800.0,234.2 L799.2,240.0 L800.0,244.2 L795.0,245.0 L790.0,241.7 L784.2,241.7 L783.3,238.3 L779.2,236.7Z" fill="#2D4A1C"/>
<path d="M769.7,237.8 L774.2,235.8 L775.3,238.0 L770.8,239.7Z" fill="#2D4A1C"/>
<path d="M771.7,233.3 L774.3,233.2 L773.3,235.0Z" fill="#2D4A1C"/>
<path d="M765.0,253.3 L766.7,247.5 L770.8,245.0 L775.0,247.5 L778.3,250.8 L781.7,249.2 L782.5,243.3 L784.2,241.7 L790.0,241.7 L795.0,245.0 L800.0,244.2 L801.7,248.3 L803.3,255.0 L800.0,259.2 L795.0,260.8 L788.3,257.5 L781.7,255.8 L773.3,255.8 L765.0,256.7Z" fill="#70AD47"/>
<path d="M765.0,256.7 L773.3,255.8 L781.7,255.8 L788.3,257.5 L795.0,260.8 L793.3,265.0 L790.0,269.2 L786.7,273.3 L780.0,275.0 L775.0,272.5 L771.7,267.5 L766.7,264.2Z" fill="#4E7A2F"/>
<path d="M694.2,255.0 L696.7,250.0 L701.7,248.3 L705.0,245.0 L705.8,249.2 L705.0,255.0 L706.7,258.3 L703.3,262.5 L701.7,266.7 L697.5,267.5 L695.0,263.3Z" fill="#4E7A2F"/>
<path d="M703.3,263.3 L706.7,262.5 L707.5,265.8 L704.2,266.3Z" fill="#4E7A2F"/>
<path d="M710.0,261.7 L713.3,259.2 L716.7,258.3 L715.8,263.3 L713.3,265.0 L712.5,268.3 L710.0,267.5Z" fill="#4E7A2F"/>
<path d="M593.3,274.2 L598.3,272.5 L601.7,270.8 L602.5,267.5 L605.8,265.8 L609.2,265.0 L608.3,268.3 L606.7,271.7 L611.7,273.3 L614.2,277.5 L615.0,282.5 L613.3,286.7 L609.2,290.0 L603.3,291.7 L598.3,295.0 L594.2,293.3 L592.5,290.8 L596.7,288.3 L595.8,285.8 L598.3,283.3 L595.0,280.0 L595.8,277.5Z" fill="#4E7A2F"/>
<path d="M670.8,295.0 L672.5,290.8 L675.8,285.8 L678.3,282.5 L683.3,280.8 L687.5,280.0 L688.3,284.2 L686.7,288.3 L684.2,290.8 L682.5,294.2 L680.8,298.3 L678.3,297.5 L673.3,296.7Z" fill="#70AD47"/>
<path d="M663.3,299.2 L668.3,297.5 L670.8,296.7 L678.3,298.0 L680.8,298.7 L681.7,302.5 L683.3,305.0 L681.7,307.5 L680.0,310.8 L675.8,308.3 L670.8,305.0 L666.7,302.5Z" fill="#70AD47"/>
<path d="M680.0,307.5 L682.5,306.7 L683.7,310.0 L680.8,311.3Z" fill="#70AD47"/>
<path d="M696.7,268.3 L700.0,270.0 L703.3,268.3 L706.7,273.3 L711.7,275.0 L718.3,272.5 L723.3,271.7 L726.7,275.0 L728.3,280.0 L727.5,285.8 L730.0,291.7 L730.8,298.3 L725.0,301.7 L718.3,305.0 L716.7,308.3 L721.7,313.3 L725.0,318.3 L720.8,321.7 L718.3,325.8 L713.3,326.7 L706.7,328.3 L702.5,326.7 L696.7,325.8 L691.7,325.0 L693.3,318.3 L691.7,315.8 L686.7,312.5 L683.3,310.0 L683.3,305.0 L681.7,302.5 L680.8,298.3 L682.5,294.2 L684.2,290.8 L686.7,288.3 L688.3,284.2 L687.5,280.0 L690.0,278.3 L695.0,280.0 L697.5,275.8Z" fill="#70AD47"/>
<path d="M658.3,300.0 L663.3,299.2 L666.7,302.5 L670.8,305.0 L675.8,308.3 L680.0,310.8 L683.3,311.7 L686.7,312.5 L691.7,315.8 L693.3,318.3 L691.7,325.0 L688.3,328.3 L685.0,331.7 L682.5,336.7 L686.7,339.2 L685.0,345.0 L686.7,350.0 L690.0,353.3 L686.7,355.8 L681.7,359.2 L676.7,356.7 L670.8,355.8 L665.8,360.0 L665.8,364.2 L661.7,365.0 L655.0,362.5 L646.7,360.8 L640.0,358.3 L642.5,350.0 L645.0,345.0 L643.3,341.7 L642.5,335.0 L642.5,338.3 L639.2,333.3 L637.5,328.3 L631.7,325.0 L625.0,323.3 L624.2,319.2 L631.7,318.3 L640.8,317.5 L639.2,311.7 L640.8,310.8 L643.3,313.3 L650.0,312.5 L651.7,309.2 L656.7,306.7Z" fill="#2D4A1C"/>
<path d="M696.7,364.2 L699.2,362.5 L700.3,366.7 L699.2,370.8 L697.0,369.2Z" fill="#2D4A1C"/>
<path d="M685.0,331.7 L688.3,328.3 L691.7,325.8 L696.7,325.8 L702.5,327.5 L705.0,330.8 L704.2,334.2 L700.0,336.7 L696.7,338.3 L693.3,336.7 L690.0,338.3 L686.7,338.3 L682.5,336.7Z" fill="#70AD47"/>
<path d="M702.5,327.5 L706.7,328.3 L713.3,326.7 L718.3,325.8 L720.8,321.7 L725.0,318.3 L730.0,316.7 L735.0,316.7 L737.5,319.2 L740.8,320.0 L739.2,325.0 L737.5,330.0 L735.0,332.5 L730.0,333.8 L723.3,335.0 L716.7,331.7 L711.7,330.8 L706.7,332.5 L705.0,330.8Z" fill="#4E7A2F"/>
<path d="M716.7,308.3 L718.3,305.0 L725.0,301.7 L730.8,299.2 L735.8,302.5 L740.0,304.2 L745.0,305.8 L748.3,309.2 L750.8,310.8 L746.7,314.2 L742.5,317.5 L737.5,319.2 L735.0,316.7 L730.0,316.7 L725.0,318.3 L721.7,313.3Z" fill="#4E7A2F"/>
<path d="M727.5,276.7 L735.0,272.5 L743.3,270.0 L749.2,269.2 L750.8,272.5 L761.7,272.5 L773.3,272.5 L777.5,275.0 L779.2,283.3 L776.7,290.0 L778.3,296.7 L780.3,302.5 L776.7,306.7 L773.3,311.7 L771.7,315.0 L765.0,312.5 L759.2,313.3 L753.3,310.8 L749.2,310.0 L745.0,305.8 L740.0,305.0 L736.7,301.7 L731.7,299.2 L730.0,293.3 L729.2,288.3 L727.5,283.3Z" fill="#2D4A1C"/>
<path d="M773.3,311.7 L776.7,306.7 L780.3,302.5 L780.0,295.8 L784.2,293.7 L791.7,293.3 L799.2,295.8 L806.7,296.7 L815.8,297.5 L818.3,293.3 L826.7,290.8 L835.0,290.0 L837.5,296.7 L843.3,300.0 L845.0,304.2 L853.3,305.0 L861.7,308.3 L869.2,311.7 L868.3,318.3 L866.7,323.3 L861.7,325.0 L858.3,329.2 L851.7,331.7 L845.8,333.3 L843.3,336.7 L841.7,340.8 L849.2,342.5 L848.3,344.2 L842.5,345.0 L838.3,347.5 L835.0,348.3 L833.3,344.2 L829.2,340.8 L835.0,338.3 L833.3,335.8 L826.7,335.0 L824.2,330.8 L820.0,332.5 L815.0,335.0 L811.7,339.2 L808.3,342.5 L805.0,341.7 L808.3,336.7 L812.5,335.0 L810.0,326.7 L803.3,321.7 L798.3,319.2 L793.3,321.7 L786.7,324.2 L780.0,322.5 L773.3,320.8 L770.8,319.2 L771.7,315.0Z" fill="#2D4A1C"/>
<path d="M742.5,317.5 L746.7,314.2 L750.8,310.8 L753.3,310.8 L759.2,313.3 L765.0,312.5 L771.7,315.0 L770.8,319.2 L768.3,320.0 L760.0,320.8 L755.0,322.5 L749.2,324.2 L744.2,322.5Z" fill="#4E7A2F"/>
<path d="M740.8,321.7 L744.2,322.5 L749.2,324.2 L755.0,322.5 L760.0,320.8 L768.3,320.0 L773.3,323.3 L770.0,326.7 L766.7,332.5 L763.3,336.7 L756.7,338.3 L750.0,339.2 L745.0,336.7 L739.2,332.5 L739.2,326.7Z" fill="#70AD47"/>
<path d="M723.3,334.2 L730.0,333.3 L736.7,331.7 L739.2,332.5 L738.3,335.0 L735.0,338.3 L731.7,341.7 L726.7,340.8 L723.3,337.5Z" fill="#4E7A2F"/>
<path d="M773.3,323.3 L780.0,322.5 L786.7,324.2 L793.3,321.7 L798.3,319.2 L801.7,328.3 L803.3,333.3 L803.3,340.0 L806.7,342.5 L810.8,343.3 L810.0,346.7 L806.7,348.3 L805.0,354.2 L798.3,352.5 L791.7,353.3 L783.3,355.8 L775.0,354.2 L771.7,350.8 L768.3,347.5 L764.2,343.3 L761.7,339.2 L763.3,336.7 L766.7,332.5 L770.0,326.7Z" fill="#A9D18E"/>
<path d="M773.3,354.2 L775.0,354.7 L783.3,355.8 L791.7,353.3 L798.3,352.5 L805.0,355.0 L801.7,360.0 L799.2,364.2 L800.8,366.7 L795.0,367.5 L791.7,370.8 L785.0,371.7 L778.3,370.8 L774.2,368.3 L772.5,363.3 L774.2,359.2Z" fill="#70AD47"/>
<path d="M753.3,340.0 L756.7,338.3 L761.7,339.2 L764.2,343.3 L768.3,347.5 L771.7,350.8 L773.3,354.2 L774.2,359.2 L771.7,362.5 L769.2,365.0 L766.7,361.7 L762.5,359.2 L759.2,360.8 L755.8,358.3 L754.2,353.3 L755.0,348.3 L753.3,344.2Z" fill="#70AD47"/>
<path d="M735.0,345.8 L740.0,344.2 L746.7,345.0 L752.5,345.8 L754.2,353.3 L753.3,356.7 L750.8,360.0 L748.3,361.7 L743.3,357.5 L739.2,353.3 L735.8,349.2Z" fill="#A9D18E"/>
<path d="M725.0,341.7 L730.0,342.5 L731.7,339.2 L736.7,337.5 L739.2,333.3 L745.0,336.7 L750.0,339.2 L753.3,340.0 L753.3,344.2 L752.5,345.8 L746.7,345.0 L740.0,344.2 L735.0,345.8 L735.8,349.2 L739.2,353.3 L743.3,357.5 L748.3,361.7 L750.0,364.2 L745.0,361.7 L740.0,357.5 L735.8,353.3 L732.5,349.2 L730.0,346.7 L726.7,345.8Z" fill="#A9D18E"/>
<path d="M750.8,360.0 L753.3,356.7 L755.8,358.3 L759.2,360.8 L759.2,365.8 L755.8,364.2 L752.5,363.3 L750.0,362.5Z" fill="#A9D18E"/>
<path d="M755.8,364.2 L759.2,365.8 L760.8,370.8 L763.3,375.0 L764.2,379.2 L761.7,383.3 L759.2,385.8 L755.8,382.5 L755.0,376.7 L755.8,370.8Z" fill="#A9D18E"/>
<path d="M763.3,375.0 L767.5,375.0 L771.7,372.5 L778.3,370.8 L785.0,371.7 L791.7,370.8 L793.3,374.2 L788.3,375.8 L783.3,375.0 L780.0,376.7 L777.5,380.0 L774.2,379.2 L775.8,384.2 L773.3,388.3 L778.3,391.7 L780.8,395.0 L776.7,394.2 L773.3,392.5 L775.0,396.7 L777.5,400.0 L773.3,399.2 L775.0,405.0 L771.7,403.3 L769.2,401.7 L767.5,397.5 L765.0,395.0 L765.8,391.7 L762.5,388.3 L760.8,384.2 L764.2,379.2Z" fill="#A9D18E"/>
<path d="M778.3,413.3 L783.3,413.7 L791.7,415.0 L792.5,416.7 L785.0,417.0 L780.0,415.3Z" fill="#A9D18E"/>
<path d="M826.7,415.8 L830.8,414.2 L836.7,412.5 L835.0,415.0 L831.7,417.5 L828.3,418.3Z" fill="#4E7A2F"/>
<path d="M685.8,340.8 L687.5,338.3 L690.8,338.7 L694.2,336.3 L697.5,338.7 L700.8,337.0 L704.2,334.7 L707.5,333.0 L711.7,331.3 L716.7,332.0 L721.7,333.7 L723.7,337.0 L721.7,340.3 L719.2,342.0 L716.7,344.2 L715.8,348.3 L718.3,353.3 L723.3,358.3 L726.7,364.2 L730.8,368.3 L735.8,370.0 L736.7,368.3 L741.7,373.3 L746.7,377.5 L749.2,380.8 L747.5,382.5 L743.3,379.2 L740.0,378.7 L737.5,380.8 L740.8,385.0 L741.7,388.3 L739.2,390.8 L737.5,395.0 L735.0,395.8 L736.7,390.8 L735.8,385.0 L732.5,380.0 L729.2,376.7 L725.0,375.0 L720.0,371.7 L713.3,366.7 L708.3,361.7 L705.0,356.7 L701.7,351.7 L696.7,350.0 L693.3,351.7 L690.0,353.3 L686.7,350.0 L685.0,345.0Z" fill="#4E7A2F"/>
<path d="M694.2,375.8 L697.5,374.2 L700.8,375.0 L701.7,380.0 L700.8,385.8 L697.5,389.2 L695.3,386.7 L695.0,380.8Z" fill="#4E7A2F"/>
<path d="M717.5,396.7 L721.7,395.3 L727.5,396.3 L732.5,395.3 L731.7,400.8 L730.0,404.2 L725.0,401.7 L720.8,399.2Z" fill="#4E7A2F"/>
<path d="M598.3,360.0 L605.0,355.8 L613.3,356.7 L623.3,357.5 L631.7,357.5 L640.0,358.3 L646.7,360.8 L655.0,362.5 L661.7,365.0 L665.8,364.2 L665.8,367.5 L660.0,372.5 L653.3,375.8 L649.2,380.8 L646.7,385.8 L649.2,390.8 L645.0,395.0 L642.5,399.2 L636.7,401.7 L630.0,403.3 L623.3,405.0 L617.5,408.3 L614.2,405.0 L610.0,400.8 L608.3,395.8 L610.0,391.7 L609.2,386.7 L610.8,381.7 L611.7,375.0 L614.2,370.8 L610.8,368.3 L605.0,368.3 L600.8,367.5 L600.0,363.3Z" fill="#4E7A2F"/>
<path d="M600.8,367.5 L605.0,368.3 L610.8,368.3 L614.2,370.8 L611.7,375.0 L610.8,381.7 L609.2,386.7 L610.0,391.7 L608.3,395.8 L610.0,400.8 L605.0,401.7 L600.0,401.7 L600.8,395.0 L600.0,390.8 L596.7,389.2 L599.2,383.3 L600.8,376.7 L601.3,371.7Z" fill="#70AD47"/>
</g>
<rect x="533.7" y="435.7" width="92.2" height="63.5" fill="#A9D18E"/><rect x="629.3" y="435.7" width="92" height="63.5" fill="#70AD47"/><rect x="724.6" y="435.7" width="91.9" height="63.5" fill="#4E7A2F"/><rect x="820.4" y="435.7" width="92" height="63.5" fill="#2D4A1C"/>
<path d="M533.7,500.8H912.4V490L934.5,511.9L912.4,534.5V523.1H533.7Z" fill="#3A5A23"/>
<rect x="820.4" y="499.2" width="92" height="1.4" fill="#9db38a"/>
<text x="554.7" y="516.3" class="lab" textLength="57.7" lengthAdjust="spacingAndGlyphs">Beginners</text><text x="651.2" y="516.3" class="lab" textLength="54.1" lengthAdjust="spacingAndGlyphs">Followers</text><text x="739.4" y="516.3" class="lab" textLength="74.2" lengthAdjust="spacingAndGlyphs">Fast trackers</text><text x="833.4" y="516.3" class="lab" textLength="74.2" lengthAdjust="spacingAndGlyphs">Trend setters</text>
<g fill="none" stroke="#111" stroke-width="1.4" stroke-linecap="round" stroke-linejoin="round">
<circle cx="564.85" cy="450.40" r="3.8"/>
<path d="M562.44,487.69 L570.86,487.69 L570.86,481.32 L579.89,481.32 L579.89,474.94 L588.31,474.94 L588.31,468.68 L596.73,468.68 L596.73,462.43 L605.75,462.43"/>
</g>
<path d="M562.56,459.66 L555.83,467.24" fill="none" stroke="#111" stroke-width="3.9" stroke-linecap="round" stroke-linejoin="round"/>
<path d="M564.97,459.66 L564.97,481.68" fill="none" stroke="#111" stroke-width="4.6" stroke-linecap="round" stroke-linejoin="round"/>
<path d="M565.45,459.42 L577.72,460.50" fill="none" stroke="#111" stroke-width="3.9" stroke-linecap="round" stroke-linejoin="round"/>
<path d="M566.65,466.04 L572.43,467.00 L573.15,476.14" fill="none" stroke="#111" stroke-width="3.9" stroke-linecap="round" stroke-linejoin="round"/>
<path d="M562.56,459.66 L555.83,467.24" fill="none" stroke="#A9D18E" stroke-width="1.4" stroke-linecap="round" stroke-linejoin="round"/>
<path d="M564.97,459.66 L564.97,481.68" fill="none" stroke="#A9D18E" stroke-width="2.0" stroke-linecap="round" stroke-linejoin="round"/>
<path d="M565.45,459.42 L577.72,460.50" fill="none" stroke="#A9D18E" stroke-width="1.4" stroke-linecap="round" stroke-linejoin="round"/>
<path d="M566.65,466.04 L572.43,467.00 L573.15,476.14" fill="none" stroke="#A9D18E" stroke-width="1.4" stroke-linecap="round" stroke-linejoin="round"/>
<g fill="none" stroke="#111" stroke-width="1.35" stroke-linecap="round" stroke-linejoin="round">
<circle cx="675.25" cy="450.04" r="4.0"/>
<path d="M666.23,471.09 V459.66 Q666.23,457.02 668.87,457.02 H681.86 Q684.51,457.02 684.51,459.66 V471.09 Q684.51,472.53 683.07,472.53 H680.90 V484.32 Q680.90,485.53 679.70,485.53 H670.68 Q669.47,485.53 669.47,484.32 V472.53 H667.67 Q666.23,472.53 666.23,471.09Z"/>
<path d="M669.47,462.43 V472.53 M680.90,462.43 V472.53 M675.25,472.53 V485.53"/>
<path d="M662.86,453.65 L655.40,446.43 M655.40,453.05 L655.40,446.43 L662.26,446.43"/>
<path d="M687.88,453.65 L695.34,446.43 M695.34,453.05 L695.34,446.43 L688.48,446.43"/>
<path d="M662.86,478.91 L655.40,486.13 M655.40,479.51 L655.40,486.13 L662.26,486.13"/>
<path d="M687.88,478.91 L695.34,486.13 M695.34,479.51 L695.34,486.13 L688.48,486.13"/>
</g>
<g fill="none" stroke="#fff" stroke-width="1.3" stroke-linecap="round" stroke-linejoin="round">
<ellipse cx="787.88" cy="450.64" rx="5.2" ry="4.9"/>
<path d="M768.27,454.85 C771.28,453.85 777.19,453.45 779.70,453.65 C782.21,453.85 782.51,454.85 783.31,456.05 C784.11,457.26 783.61,459.16 784.51,460.86 C785.41,462.57 787.92,464.87 788.72,466.28 C789.52,467.68 789.72,468.48 789.32,469.29 C788.92,470.09 787.62,471.49 786.32,471.09 C785.01,470.69 782.71,467.78 781.50,466.88 C780.30,465.98 780.00,465.28 779.10,465.68 C778.20,466.08 775.69,467.78 776.09,469.29 C776.49,470.79 780.50,471.69 781.50,474.70 C782.51,477.71 782.51,485.03 782.11,487.33 C781.70,489.64 780.10,488.63 779.10,488.53 C778.10,488.43 776.69,488.73 776.09,486.73 C775.49,484.72 776.39,479.01 775.49,476.50 C774.59,474.00 772.08,471.49 770.68,471.69 C769.27,471.89 769.97,476.80 767.07,477.71 C764.16,478.61 756.04,477.61 753.23,477.11 C750.43,476.60 750.53,475.70 750.23,474.70 C749.92,473.70 750.73,471.79 751.43,471.09 C752.13,470.39 752.33,470.29 754.44,470.49 C756.54,470.69 761.95,472.89 764.06,472.29 C766.17,471.69 766.87,468.08 767.07,466.88 C767.27,465.68 766.07,465.48 765.26,465.08 C764.46,464.67 763.06,464.97 762.26,464.47 C761.45,463.97 760.55,462.87 760.45,462.07 C760.35,461.27 760.35,460.86 761.65,459.66 C762.96,458.46 765.26,455.85 768.27,454.85Z"/>
<path d="M772.48,459.66 L767.07,466.88"/>
</g>
<rect x="782.3" y="473.5" width="31.7" height="21.3" fill="#fff"/><rect x="782.3" y="473.5" width="10.6" height="21.3" fill="#009246"/><rect x="803.4" y="473.5" width="10.6" height="21.3" fill="#ce2b37"/>
<g fill="none" stroke="#fff" stroke-width="1.35" stroke-linecap="round" stroke-linejoin="round">
<circle cx="864.89" cy="446.07" r="3.7"/>
<path d="M860.08,475.30 V457.86 L852.02,445.11 Q851.17,443.42 852.86,443.06 Q854.06,442.82 855.02,444.38 L861.04,452.08 H868.74 L874.75,444.38 Q875.71,442.82 876.92,443.06 Q878.60,443.42 877.76,445.11 L869.70,457.86 V475.30"/>
<path d="M864.89,464.47 V475.30"/>
<rect x="858.51" y="475.54" width="12.99" height="12.75"/>
<path d="M858.51,483.72 H846.24 Q844.44,483.72 844.44,486.13 Q844.44,488.53 846.24,488.53 H885.94 Q887.98,488.53 887.98,486.13 V481.32 Q887.98,479.51 885.94,479.51 H871.50"/>
</g>
</svg></body></html>
